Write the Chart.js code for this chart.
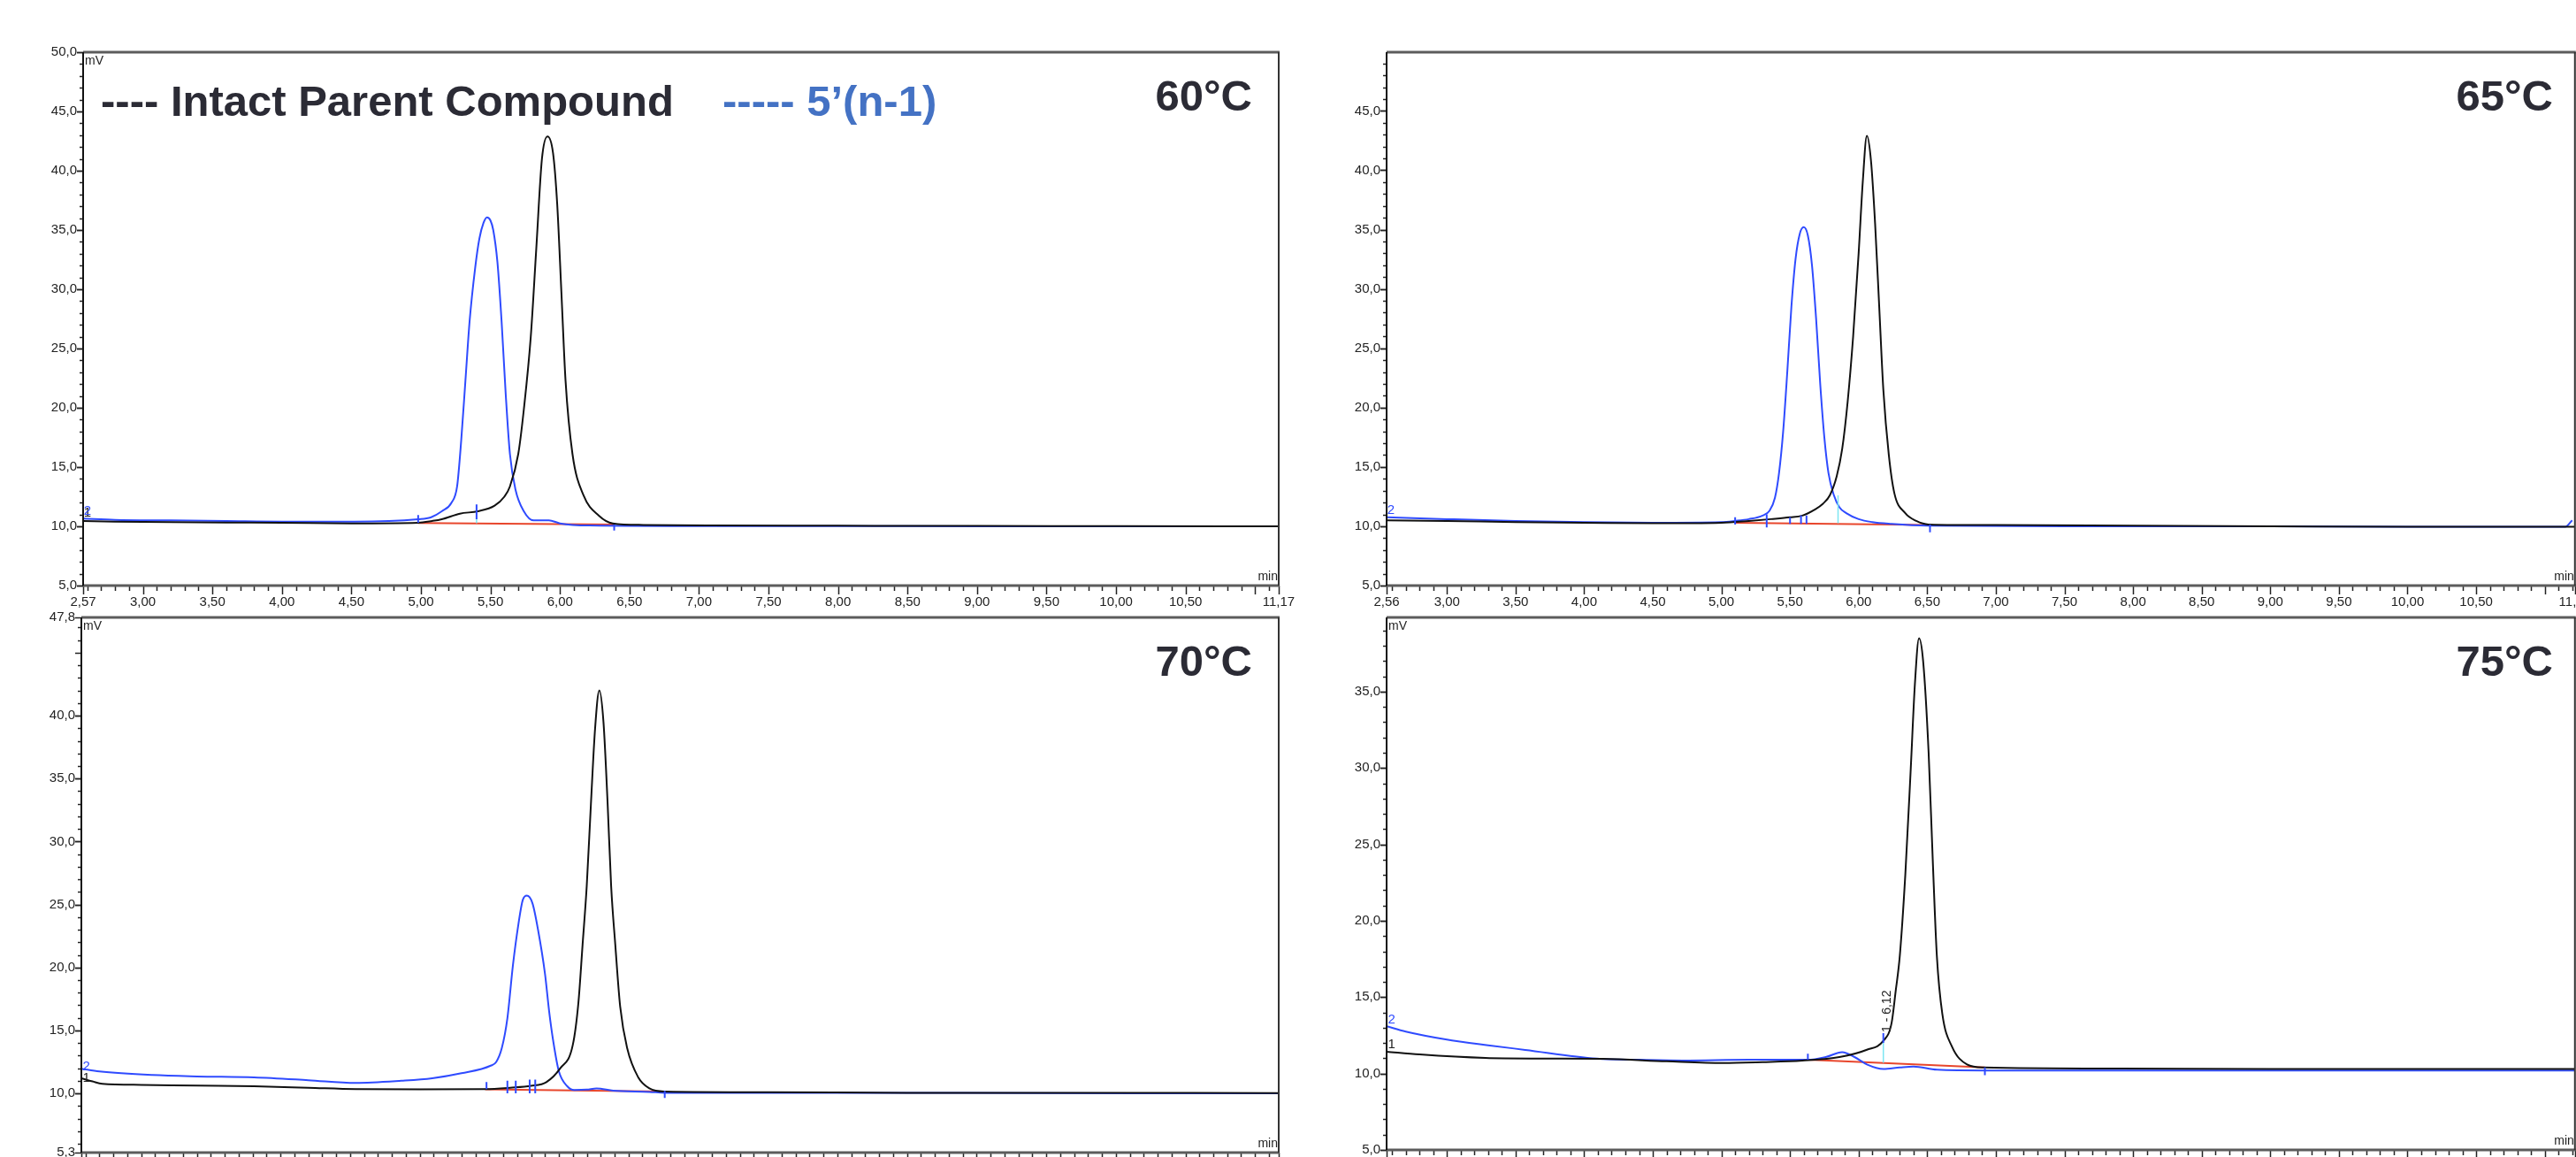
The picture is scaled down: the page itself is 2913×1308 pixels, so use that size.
<!DOCTYPE html>
<html>
<head>
<meta charset="utf-8">
<title>Chromatograms 60-75 °C</title>
<script src="https://cdn.jsdelivr.net/npm/chart.js@4.4.1/dist/chart.umd.min.js"></script>
<style>
  html, body { margin: 0; padding: 0; background: #fff; }
  body { width: 2913px; height: 1308px; overflow: hidden; position: relative; font-family: "Liberation Sans", Arial, sans-serif; }
  canvas { position: absolute; }
  .big { position: absolute; font-weight: bold; font-size: 49px; color: #2b2b35; white-space: nowrap; line-height: 1; }
</style>
</head>
<body>
<canvas id="c60" width="1500" height="700" style="left:0;top:0"></canvas>
<canvas id="c65" width="1460" height="700" style="left:1480px;top:0"></canvas>
<canvas id="c70" width="1500" height="700" style="left:0;top:640px"></canvas>
<canvas id="c75" width="1460" height="700" style="left:1480px;top:640px"></canvas>

<div class="big" style="left:114px;top:90px">---- Intact Parent Compound</div>
<div class="big" style="left:817px;top:90px;color:#4472c4">----- 5’(n-1)</div>
<div class="big" style="right:1497px;top:84px">60°C</div>
<div class="big" style="right:26px;top:84px">65°C</div>
<div class="big" style="right:1497px;top:723px">70°C</div>
<div class="big" style="right:26px;top:723px">75°C</div>

<script>
// ---- data: time (min), signal (mV) ----

// 60 °C
const black60 = [[2.57,10.45],[2.8,10.4],[3.2,10.35],[3.6,10.32],[4.0,10.3],[4.5,10.25],[4.98,10.3],[5.08,10.45],[5.15,10.6],[5.28,11.07],[5.41,11.27],[5.53,11.74],[5.6,12.5],[5.64,13.36],[5.7,16.1],[5.74,19.85],[5.79,26.0],[5.83,33.5],[5.87,40.97],[5.91,42.9],[5.95,41.5],[5.98,37.2],[6.01,29.8],[6.04,22.3],[6.09,16.1],[6.17,12.6],[6.28,10.9],[6.38,10.25],[6.6,10.12],[7.06,10.07],[8.0,10.05],[9.0,10.03],[10.0,10.02],[11.17,10.0]];
const blue60 = [[2.57,10.65],[2.8,10.55],[3.2,10.5],[3.6,10.45],[4.0,10.4],[4.52,10.4],[4.98,10.6],[5.07,10.75],[5.15,11.27],[5.22,12.0],[5.26,13.36],[5.29,17.3],[5.32,22.3],[5.35,27.3],[5.39,31.8],[5.42,34.25],[5.45,35.6],[5.475,36.07],[5.5,35.8],[5.52,35.0],[5.55,32.3],[5.58,27.3],[5.61,21.1],[5.64,16.1],[5.68,13.1],[5.74,11.27],[5.81,10.5],[5.92,10.5],[6.0,10.25],[6.21,10.07],[7.06,10.02],[8.0,10.02],[9.0,10.0],[10.0,10.0],[11.17,10.0]];
const base60 = [[4.98,10.28],[6.39,10.15]];
const marks60 = [[4.98,10.3,10.95],[5.40,10.6,11.85],[6.39,9.65,10.15]];
const drops60 = [[5.40,10.27,10.6]];
const xLabels60 = [2.57,3.0,3.5,4.0,4.5,5.0,5.5,6.0,6.5,7.0,7.5,8.0,8.5,9.0,9.5,10.0,10.5,11.17];
const yLabels60 = [5,10,15,20,25,30,35,40,45,50];

// 65 °C
const black65 = [[2.56,10.5],[3.0,10.45],[3.5,10.35],[4.0,10.3],[4.5,10.25],[5.0,10.3],[5.2,10.45],[5.36,10.6],[5.5,10.75],[5.59,10.9],[5.68,11.4],[5.74,11.9],[5.79,12.6],[5.84,14.2],[5.88,16.5],[5.92,20.5],[5.96,26.0],[6.0,33.0],[6.03,39.0],[6.06,42.9],[6.09,40.8],[6.12,35.5],[6.15,28.5],[6.18,21.5],[6.22,16.0],[6.26,12.8],[6.34,11.1],[6.42,10.45],[6.51,10.15],[7.0,10.1],[8.0,10.05],[9.0,10.0],[10.0,9.95],[11.22,9.95]];
const blue65 = [[2.56,10.75],[3.0,10.6],[3.5,10.45],[4.0,10.35],[4.5,10.3],[5.0,10.35],[5.1,10.45],[5.2,10.6],[5.3,10.9],[5.35,11.3],[5.39,12.4],[5.42,14.5],[5.45,18.0],[5.48,23.0],[5.51,28.5],[5.54,32.5],[5.57,34.6],[5.6,35.2],[5.63,34.5],[5.66,32.0],[5.69,27.5],[5.72,22.0],[5.75,17.5],[5.78,14.5],[5.82,12.6],[5.86,11.6],[5.91,11.1],[6.0,10.6],[6.1,10.35],[6.24,10.2],[6.5,10.05],[7.5,10.0],[9.0,10.0],[10.0,9.95],[11.15,9.95],[11.2,10.5]];
const base65 = [[5.10,10.3],[6.52,10.1]];
const marks65 = [[5.10,10.15,10.75],[5.33,9.9,11.0],[5.50,10.2,10.75],[5.58,10.2,10.9],[5.62,10.2,10.9],[6.52,9.5,10.15]];
const drops65 = [[5.85,10.25,12.6]];
const xLabels65 = [2.56,3.0,3.5,4.0,4.5,5.0,5.5,6.0,6.5,7.0,7.5,8.0,8.5,9.0,9.5,10.0,10.5,11.22];
const yLabels65 = [5,10,15,20,25,30,35,40,45];

// 70 °C
const black70 = [[2.57,11.2],[2.65,10.95],[2.72,10.76],[3.0,10.68],[3.4,10.62],[3.81,10.57],[4.2,10.45],[4.54,10.34],[5.0,10.32],[5.47,10.34],[5.65,10.45],[5.8,10.6],[5.91,10.9],[6.01,12.0],[6.1,13.86],[6.14,17.2],[6.17,21.8],[6.2,26.5],[6.23,33.0],[6.26,39.0],[6.29,42.0],[6.32,39.5],[6.35,33.0],[6.375,26.5],[6.405,21.8],[6.44,16.9],[6.49,13.6],[6.57,11.27],[6.65,10.4],[6.76,10.15],[7.5,10.1],[8.5,10.05],[9.5,10.05],[11.17,10.02]];
const blue70 = [[2.57,11.96],[2.7,11.75],[3.08,11.46],[3.4,11.35],[3.81,11.27],[4.2,11.05],[4.54,10.83],[4.87,11.0],[5.09,11.2],[5.3,11.6],[5.51,12.2],[5.55,12.5],[5.59,13.6],[5.63,15.97],[5.67,20.2],[5.71,23.5],[5.74,25.35],[5.77,25.7],[5.81,25.1],[5.85,23.0],[5.9,19.5],[5.93,16.5],[5.96,14.1],[6.0,11.74],[6.06,10.57],[6.11,10.27],[6.2,10.3],[6.27,10.4],[6.39,10.22],[6.65,10.12],[6.76,10.05],[8.0,10.05],[9.5,10.02],[11.17,10.0]];
const base70 = [[5.47,10.32],[6.75,10.15]];
const marks70 = [[5.48,10.34,10.9],[5.63,10.0,11.0],[5.69,10.0,11.0],[5.79,10.0,11.1],[5.83,10.0,11.1],[6.76,9.63,10.2]];
const drops70 = [];
const xLabels70 = [2.57,3.0,3.5,4.0,4.5,5.0,5.5,6.0,6.5,7.0,7.5,8.0,8.5,9.0,9.5,10.0,10.5,11.17];
const yLabels70 = [5.3,10,15,20,25,30,35,40,47.8];

// 75 °C
const black75 = [[2.56,11.43],[2.8,11.25],[3.28,11.02],[3.7,10.98],[4.14,10.96],[4.6,10.8],[5.01,10.69],[5.3,10.75],[5.59,10.85],[5.86,11.08],[6.06,11.56],[6.18,12.14],[6.24,13.3],[6.27,15.4],[6.3,17.7],[6.34,23.0],[6.38,30.0],[6.41,35.5],[6.44,38.5],[6.47,37.0],[6.51,31.0],[6.54,24.0],[6.57,17.7],[6.61,13.9],[6.68,11.77],[6.79,10.6],[6.91,10.4],[7.9,10.33],[9.0,10.3],[10.0,10.3],[11.22,10.3]];
const blue75 = [[2.56,13.1],[2.7,12.75],[2.99,12.24],[3.3,11.85],[3.57,11.55],[4.09,10.98],[4.4,10.9],[4.72,10.85],[5.2,10.9],[5.63,10.9],[5.76,11.08],[5.88,11.4],[5.97,11.08],[6.06,10.6],[6.18,10.3],[6.3,10.4],[6.4,10.46],[6.57,10.25],[6.93,10.2],[7.9,10.2],[9.0,10.2],[10.0,10.2],[11.22,10.2]];
const base75 = [[5.63,10.9],[6.92,10.4]];
const marks75 = [[5.63,10.9,11.3],[6.18,12.0,12.64],[6.92,9.9,10.4]];
const drops75 = [[6.18,10.7,12.0]];
const xLabels75 = [2.56,3.0,3.5,4.0,4.5,5.0,5.5,6.0,6.5,7.0,7.5,8.0,8.5,9.0,9.5,10.0,10.5,11.22];
const yLabels75 = [5,10,15,20,25,30,35];

// ---- drawing ----
const FONT = '"Liberation Sans", Arial, sans-serif';
const BLUE = '#2f4bff';

const toPts = arr => arr.map(([x, y]) => ({x, y}));
const toSegs = arr => arr.flatMap(([x, a, b]) => [{x, y: a}, {x, y: b}, {x, y: null}]);

// frame, minor/major ticks and the small labels of the chromatography software
const chromFrame = {
    id: 'chromFrame',
    afterDatasetsDraw(chart, args, opts) {
        const {ctx, chartArea: a} = chart;
        const x = chart.scales.x, y = chart.scales.y;
        const line = (x1, y1, x2, y2) => { ctx.beginPath(); ctx.moveTo(x1, y1); ctx.lineTo(x2, y2); ctx.stroke(); };

        ctx.save();
        ctx.strokeStyle = '#222';
        ctx.lineWidth = 1.5;
        for (let k = Math.ceil(x.min * 10 - 1e-6); k <= Math.floor(x.max * 10 + 1e-6); k++) {
            const px = Math.round(x.getPixelForValue(k / 10)) + 0.5;
            line(px, a.bottom, px, a.bottom + (k % 5 === 0 ? 10 : 6));
        }
        [x.min, x.max].forEach(v => {
            const px = Math.round(x.getPixelForValue(v)) + 0.5;
            line(px, a.bottom, px, a.bottom + 10);
        });
        for (let k = Math.ceil(y.min - 1e-6); k <= Math.floor(y.max + 1e-6); k++) {
            const py = Math.round(y.getPixelForValue(k)) + 0.5;
            line(a.left - (k % 5 === 0 ? 7 : 4), py, a.left, py);
        }
        opts.yLabels.forEach(v => {
            const py = Math.round(y.getPixelForValue(v)) + 0.5;
            line(a.left - 7, py, a.left, py);
        });

        // frame
        ctx.strokeStyle = '#5c5c5c';
        ctx.lineWidth = 3;
        line(a.left, a.top, a.right + 1, a.top);
        line(a.left, a.bottom, a.right + 1, a.bottom);
        ctx.strokeStyle = '#111';
        ctx.lineWidth = 2;
        line(a.left, a.top, a.left, a.bottom);
        ctx.strokeStyle = '#333';
        line(a.right, a.top, a.right, a.bottom);

        // small texts
        ctx.font = '14px ' + FONT;
        ctx.fillStyle = '#222';
        ctx.textBaseline = 'top';
        ctx.textAlign = 'left';
        if (opts.mV) ctx.fillText('mV', a.left + 2, a.top + 3);
        ctx.textAlign = 'right';
        ctx.textBaseline = 'bottom';
        ctx.fillText('min', a.right - 1, a.bottom - 3);

        ctx.font = '15px ' + FONT;
        ctx.textAlign = 'left';
        ctx.textBaseline = 'middle';
        (opts.tags || []).forEach(([txt, tx, ty, col]) => {
            ctx.fillStyle = col;
            ctx.fillText(txt, x.getPixelForValue(tx), y.getPixelForValue(ty));
        });

        if (opts.peakNote) {
            const [txt, tx, ty] = opts.peakNote;
            ctx.save();
            ctx.translate(x.getPixelForValue(tx) + 8, y.getPixelForValue(ty));
            ctx.rotate(-Math.PI / 2);
            ctx.font = '14px ' + FONT;
            ctx.fillStyle = '#222';
            ctx.textAlign = 'left';
            ctx.textBaseline = 'alphabetic';
            ctx.fillText(txt, 0, 0);
            ctx.restore();
        }
        ctx.restore();
    }
};

function makeChart(id, p) {
    const trace = (data, color, order) => ({
        data: toPts(data), borderColor: color, borderWidth: 2, order,
        pointRadius: 0, fill: false, cubicInterpolationMode: 'monotone'
    });
    const segs = (data, color, width) => ({
        data: toSegs(data), borderColor: color, borderWidth: width, order: 0,
        pointRadius: 0, fill: false, spanGaps: false, tension: 0
    });

    new Chart(document.getElementById(id), {
        type: 'line',
        data: {
            datasets: [
                trace(p.black, '#111', 1),
                trace(p.blue, BLUE, 2),
                Object.assign(trace(p.base, '#e8462c', 3), {cubicInterpolationMode: 'default', tension: 0}),
                segs(p.marks, BLUE, 2),
                segs(p.drops, '#7de6f2', 1.5)
            ]
        },
        options: {
            responsive: false,
            animation: false,
            devicePixelRatio: 1,
            layout: {padding: {top: p.padTop, right: p.padRight, left: 0, bottom: 0}},
            plugins: {
                legend: {display: false},
                tooltip: {enabled: false},
                chromFrame: {yLabels: p.yLabels, mV: p.mV, tags: p.tags, peakNote: p.peakNote}
            },
            scales: {
                x: {
                    type: 'linear', min: p.xLabels[0], max: p.xLabels[p.xLabels.length - 1],
                    grid: {display: false, drawTicks: false}, border: {display: false},
                    afterBuildTicks: s => { s.ticks = p.xLabels.map(v => ({value: v})); },
                    afterFit: s => { s.height = p.xH; },
                    ticks: {
                        autoSkip: false, maxRotation: 0, minRotation: 0, padding: 10, color: '#222',
                        font: {family: FONT, size: 15},
                        callback: v => v.toFixed(2).replace('.', ',')
                    }
                },
                y: {
                    type: 'linear', min: p.yMin, max: p.yMax,
                    grid: {display: false, drawTicks: false}, border: {display: false},
                    afterBuildTicks: s => { s.ticks = p.yLabels.map(v => ({value: v})); },
                    afterFit: s => { s.width = p.yW; },
                    ticks: {
                        autoSkip: false, padding: 7, color: '#222',
                        font: {family: FONT, size: 15},
                        callback: v => v.toFixed(1).replace('.', ',')
                    }
                }
            }
        },
        plugins: [chromFrame]
    });
}

makeChart('c60', {
    black: black60, blue: blue60, base: base60, marks: marks60, drops: drops60,
    xLabels: xLabels60, yLabels: yLabels60, yMin: 5, yMax: 50, mV: true,
    padTop: 59, padRight: 54, yW: 94, xH: 38,
    tags: [['1', 2.575, 11.15, '#222'], ['2', 2.575, 11.3, BLUE]]
});
makeChart('c65', {
    black: black65, blue: blue65, base: base65, marks: marks65, drops: drops65,
    xLabels: xLabels65, yLabels: yLabels65, yMin: 5, yMax: 49.95, mV: false,
    padTop: 59, padRight: 20, yW: 88, xH: 38,
    tags: [['2', 2.565, 11.35, BLUE]]
});
makeChart('c70', {
    black: black70, blue: blue70, base: base70, marks: marks70, drops: drops70,
    xLabels: xLabels70, yLabels: yLabels70, yMin: 5.3, yMax: 47.8, mV: true,
    padTop: 58, padRight: 54, yW: 92, xH: 37,
    tags: [['2', 2.58, 12.1, BLUE], ['1', 2.58, 11.2, '#222']]
});
makeChart('c75', {
    black: black75, blue: blue75, base: base75, marks: marks75, drops: drops75,
    xLabels: xLabels75, yLabels: yLabels75, yMin: 5, yMax: 39.86, mV: true,
    padTop: 58, padRight: 20, yW: 88, xH: 40,
    tags: [['2', 2.57, 13.5, BLUE], ['1', 2.57, 11.9, '#222']],
    peakNote: ['1 - 6,12', 6.18, 12.7]
});
</script>
</body>
</html>
